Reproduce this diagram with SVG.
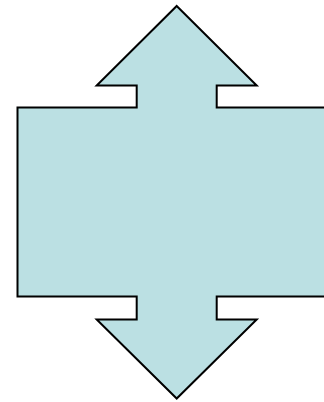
<svg xmlns="http://www.w3.org/2000/svg" width="324" height="402" viewBox="0 0 324 402">
<style>.shape{fill:#bbe0e3;stroke:#000;stroke-width:2;stroke-linejoin:miter}</style>
<g id="callout">
<path class="shape" d="M176.7,6 L256.7,85.5 L216.7,85.5 L216.7,107.5 L336,107.5 L336,296.5 L216.7,296.5 L216.7,319.5 L256.7,319.5 L176.7,398.5 L96.7,319.5 L136.7,319.5 L136.7,296.5 L17.5,296.5 L17.5,107.5 L136.7,107.5 L136.7,85.5 L96.7,85.5 Z"/>
</g>
</svg>
